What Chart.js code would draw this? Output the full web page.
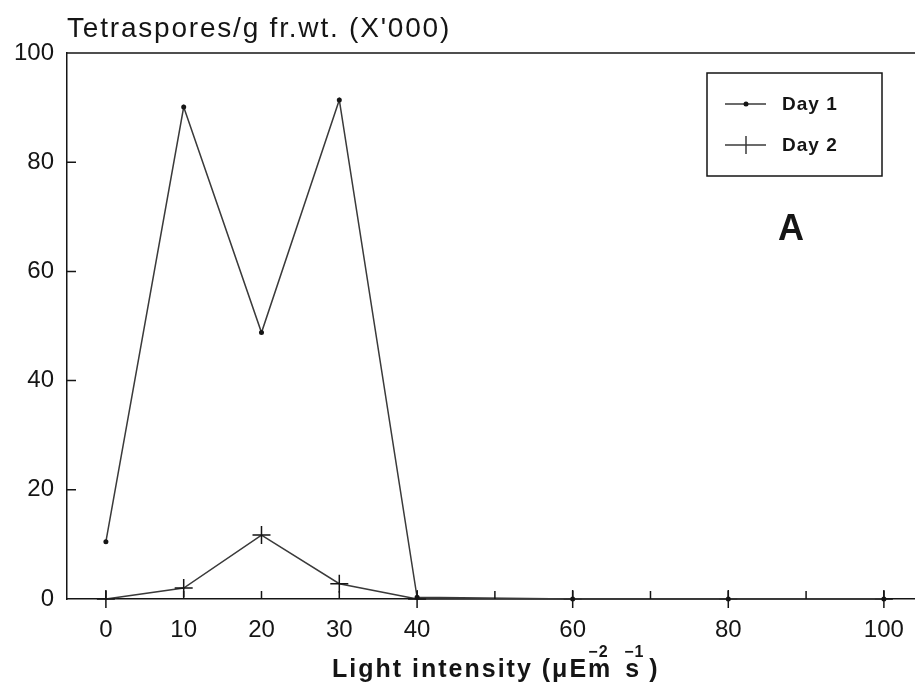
<!DOCTYPE html>
<html>
<head>
<meta charset="utf-8">
<title>Tetraspores vs light intensity</title>
<script src="https://cdn.jsdelivr.net/npm/chart.js@4.4.1/dist/chart.umd.min.js"></script>
<style>
    body { margin: 0; background: #fff; }
    #wrap { width: 915px; height: 690px; }
</style>
</head>
<body>
<div id="wrap"><canvas id="chart" width="915" height="690"></canvas></div>
<script>
// Data
const lightIntensity = [0, 10, 20, 30, 40, 60, 80, 100];
const day1 = [10.5, 90.1, 48.8, 91.4, 0.3, 0, 0, 0];
const day2 = [0, 2.0, 11.7, 2.8, 0, 0, 0, 0];
const xTickValues = [0, 10, 20, 30, 40, 50, 60, 70, 80, 90, 100];
const xTickLabels = ['0', '10', '20', '30', '40', '', '60', '', '80', '', '100'];
const yTickValues = [0, 20, 40, 60, 80, 100];

const ink = '#151515';
const lineInk = '#3a3a3a';

const toPoints = ys => lightIntensity.map((x, i) => ({ x: x, y: ys[i] }));

// Title, top frame line, inward ticks, legend box, "A" and axis title
const decorations = {
    id: 'decorations',
    afterDraw: function(chart) {
        const ctx = chart.ctx;
        const area = chart.chartArea;
        const xs = chart.scales.x;
        const ys = chart.scales.y;
        ctx.save();
        ctx.strokeStyle = ink;
        ctx.fillStyle = ink;
        ctx.lineWidth = 1.5;

        // top frame line
        ctx.beginPath();
        ctx.moveTo(area.left, area.top);
        ctx.lineTo(area.right, area.top);
        ctx.stroke();

        // ticks pointing into the plot
        ctx.beginPath();
        xTickValues.forEach(v => {
            const px = xs.getPixelForValue(v);
            ctx.moveTo(px, area.bottom);
            ctx.lineTo(px, area.bottom - 8);
        });
        yTickValues.slice(1, -1).forEach(v => {
            const py = ys.getPixelForValue(v);
            ctx.moveTo(area.left, py);
            ctx.lineTo(area.left + 9, py);
        });
        ctx.stroke();

        // y title
        ctx.font = '28px "Liberation Sans", Arial, sans-serif';
        ctx.letterSpacing = '1.8px';
        ctx.textBaseline = 'alphabetic';
        ctx.textAlign = 'left';
        ctx.fillText("Tetraspores/g fr.wt. (X'000)", 67, 37);

        // legend
        ctx.letterSpacing = '0px';
        ctx.lineWidth = 1.5;
        ctx.strokeRect(707, 73, 175, 103);
        const rows = [
            { y: 104, label: 'Day 1', ds: chart.data.datasets[0] },
            { y: 145, label: 'Day 2', ds: chart.data.datasets[1] }
        ];
        rows.forEach(r => {
            ctx.strokeStyle = lineInk;
            ctx.beginPath();
            ctx.moveTo(725, r.y);
            ctx.lineTo(766, r.y);
            ctx.stroke();
            if (r.ds.pointStyle === 'cross') {
                ctx.beginPath();
                ctx.moveTo(746, r.y - 9);
                ctx.lineTo(746, r.y + 9);
                ctx.stroke();
            } else {
                ctx.beginPath();
                ctx.arc(746, r.y, 2.5, 0, Math.PI * 2);
                ctx.fill();
            }
            ctx.fillStyle = ink;
            ctx.font = 'bold 19px "Liberation Sans", Arial, sans-serif';
            ctx.letterSpacing = '1px';
            ctx.textBaseline = 'middle';
            ctx.fillText(r.label, 782, r.y + 1);
            ctx.letterSpacing = '0px';
        });

        // panel letter
        ctx.font = 'bold 36px "Liberation Sans", Arial, sans-serif';
        ctx.textAlign = 'center';
        ctx.textBaseline = 'alphabetic';
        ctx.fillText('A', 791, 240);

        // x title, superscripts sit over the preceding letter as in the print
        ctx.textAlign = 'left';
        ctx.letterSpacing = '2px';
        const big = 'bold 25px "Liberation Sans", Arial, sans-serif';
        const small = 'bold 16px "Liberation Sans", Arial, sans-serif';
        const base = 677;
        let x = 332;
        ctx.font = big;
        ctx.fillText('Light intensity (\u03bcEm', x, base);
        x += ctx.measureText('Light intensity (\u03bcEm').width;
        ctx.font = small;
        ctx.letterSpacing = '1px';
        ctx.fillText('\u22122', x - 24, base - 20);
        ctx.font = big;
        ctx.letterSpacing = '2px';
        x += 13;
        ctx.fillText('s', x, base);
        x += ctx.measureText('s').width;
        ctx.font = small;
        ctx.letterSpacing = '1px';
        ctx.fillText('\u22121', x - 17, base - 20);
        ctx.font = big;
        ctx.fillText(')', x + 8, base);
        ctx.restore();
    }
};

new Chart(document.getElementById('chart'), {
    type: 'line',
    data: {
        datasets: [
            {
                label: 'Day 1',
                data: toPoints(day1),
                borderColor: lineInk,
                borderWidth: 1.5,
                pointStyle: 'circle',
                pointRadius: 2.5,
                pointBackgroundColor: ink,
                pointBorderColor: ink,
                pointBorderWidth: 0,
                tension: 0,
                clip: false
            },
            {
                label: 'Day 2',
                data: toPoints(day2),
                borderColor: lineInk,
                borderWidth: 1.5,
                pointStyle: 'cross',
                pointRadius: 9,
                pointBorderColor: ink,
                pointBorderWidth: 1.5,
                tension: 0,
                clip: false
            }
        ]
    },
    options: {
        responsive: false,
        animation: false,
        layout: { autoPadding: false, padding: { top: 53, left: 0, right: 0, bottom: 0 } },
        plugins: {
            legend: { display: false },
            tooltip: { enabled: false }
        },
        scales: {
            x: {
                type: 'linear',
                min: -5,
                max: 104,
                afterBuildTicks: scale => {
                    scale.ticks = xTickValues.map(v => ({ value: v }));
                },
                afterFit: scale => {
                    scale.height = 91;
                    scale.paddingLeft = 0;
                    scale.paddingRight = 0;
                },
                grid: { display: false, drawTicks: false },
                border: { display: true, color: ink, width: 1.5 },
                ticks: {
                    padding: 17,
                    color: ink,
                    maxRotation: 0,
                    autoSkip: false,
                    font: { family: '"Liberation Sans", Arial, sans-serif', size: 24 },
                    callback: (value) => xTickLabels[xTickValues.indexOf(value)] || ''
                }
            },
            y: {
                type: 'linear',
                min: 0,
                max: 100,
                afterBuildTicks: scale => {
                    scale.ticks = yTickValues.map(v => ({ value: v }));
                },
                afterFit: scale => {
                    scale.width = 67;
                    scale.paddingTop = 0;
                    scale.paddingBottom = 0;
                },
                grid: { display: false, drawTicks: false },
                border: { display: true, color: ink, width: 1.5 },
                ticks: {
                    padding: 13,
                    color: ink,
                    font: { family: '"Liberation Sans", Arial, sans-serif', size: 24 }
                }
            }
        }
    },
    plugins: [decorations]
});
</script>
</body>
</html>
